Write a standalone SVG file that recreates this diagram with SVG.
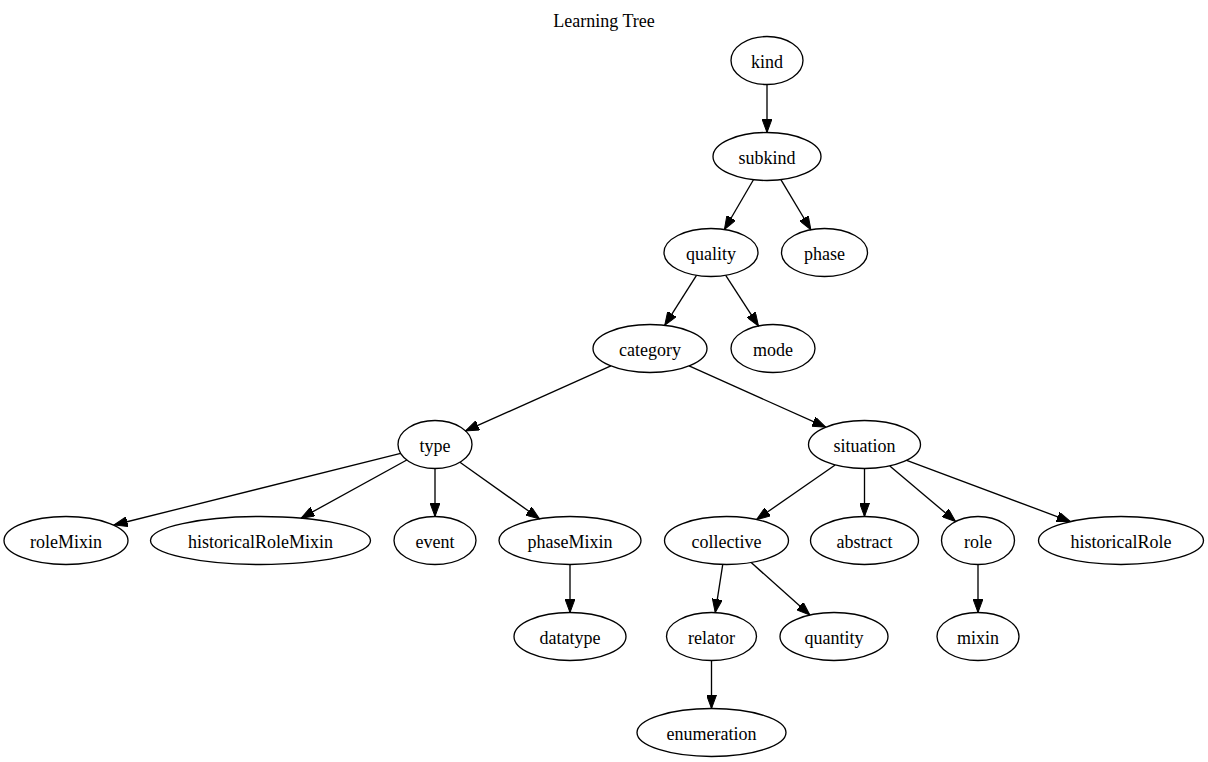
<svg xmlns="http://www.w3.org/2000/svg" width="1208" height="762" viewBox="0 0 1208 762">
  <style>
    .node ellipse { fill: none; stroke: #000; stroke-width: 1.33; }
    text { font-family: "Liberation Serif", "Times New Roman", serif; font-size: 18px; fill: #000; text-anchor: middle; }
    .edges line { stroke: #000; stroke-width: 1.33; marker-end: url(#arrow); }
  </style>
  <defs>
    <marker id="arrow" markerUnits="userSpaceOnUse" markerWidth="14" markerHeight="10" refX="13.5" refY="5" orient="auto">
      <path d="M0,0 L13.5,5 L0,10 z" fill="#000" stroke="#000" stroke-width="1"/>
    </marker>
  </defs>
  <rect width="1208" height="762" fill="#fff"/>

  <text id="title" x="604" y="27">Learning Tree</text>

  <g class="edges" id="edges">
    <line x1="767" y1="84.5" x2="767" y2="132.5"/>
    <line x1="753.45" y1="179.73" x2="724.42" y2="229.5"/>
    <line x1="780.89" y1="179.69" x2="810.87" y2="229.74"/>
    <line x1="696.49" y1="275.33" x2="664.73" y2="325.32"/>
    <line x1="725.72" y1="275.29" x2="758.46" y2="325.98"/>
    <line x1="610.89" y1="365.96" x2="465.48" y2="430.89"/>
    <line x1="689.06" y1="365.98" x2="825.77" y2="427.17"/>
    <line x1="400.66" y1="453.43" x2="114" y2="525"/>
    <line x1="406.78" y1="460.02" x2="301.05" y2="518.19"/>
    <line x1="435" y1="468.5" x2="435" y2="516.5"/>
    <line x1="459.93" y1="462.23" x2="539.52" y2="518.82"/>
    <line x1="570" y1="564.5" x2="570" y2="612.5"/>
    <line x1="835.13" y1="464.93" x2="756.65" y2="519.53"/>
    <line x1="864.5" y1="468.5" x2="864.5" y2="516.5"/>
    <line x1="889.81" y1="465.91" x2="955.6" y2="521.55"/>
    <line x1="906.68" y1="460.29" x2="1070.37" y2="521.55"/>
    <line x1="722.76" y1="564.46" x2="715.24" y2="612.58"/>
    <line x1="751.16" y1="562.52" x2="809.94" y2="615.01"/>
    <line x1="978" y1="564.5" x2="978" y2="612.5"/>
    <line x1="711.5" y1="660.5" x2="711.5" y2="708.5"/>
  </g>

  <g class="node" id="kind"><ellipse cx="767" cy="60.5" rx="36" ry="24"/><text x="767" y="67.5">kind</text></g>
  <g class="node" id="subkind"><ellipse cx="767" cy="156.5" rx="54" ry="24"/><text x="767" y="163.5">subkind</text></g>
  <g class="node" id="quality"><ellipse cx="711" cy="252.5" rx="47" ry="24"/><text x="711" y="259.5">quality</text></g>
  <g class="node" id="phase"><ellipse cx="824.5" cy="252.5" rx="43" ry="24"/><text x="824.5" y="259.5">phase</text></g>
  <g class="node" id="category"><ellipse cx="650" cy="348.5" rx="57" ry="24"/><text x="650" y="355.5">category</text></g>
  <g class="node" id="mode"><ellipse cx="773" cy="348.5" rx="42" ry="24"/><text x="773" y="355.5">mode</text></g>
  <g class="node" id="type"><ellipse cx="435" cy="444.5" rx="37" ry="24"/><text x="435" y="451.5">type</text></g>
  <g class="node" id="situation"><ellipse cx="864.5" cy="444.5" rx="56" ry="24"/><text x="864.5" y="451.5">situation</text></g>
  <g class="node" id="roleMixin"><ellipse cx="66" cy="540.5" rx="62" ry="24"/><text x="66" y="547.5">roleMixin</text></g>
  <g class="node" id="historicalRoleMixin"><ellipse cx="260.5" cy="540.5" rx="110" ry="24"/><text x="260.5" y="547.5">historicalRoleMixin</text></g>
  <g class="node" id="event"><ellipse cx="435" cy="540.5" rx="41" ry="24"/><text x="435" y="547.5">event</text></g>
  <g class="node" id="phaseMixin"><ellipse cx="570" cy="540.5" rx="71" ry="24"/><text x="570" y="547.5">phaseMixin</text></g>
  <g class="node" id="collective"><ellipse cx="726.5" cy="540.5" rx="62" ry="24"/><text x="726.5" y="547.5">collective</text></g>
  <g class="node" id="abstract"><ellipse cx="864.5" cy="540.5" rx="54" ry="24"/><text x="864.5" y="547.5">abstract</text></g>
  <g class="node" id="role"><ellipse cx="978" cy="540.5" rx="36.5" ry="24"/><text x="978" y="547.5">role</text></g>
  <g class="node" id="historicalRole"><ellipse cx="1121" cy="540.5" rx="82.5" ry="24"/><text x="1121" y="547.5">historicalRole</text></g>
  <g class="node" id="datatype"><ellipse cx="570" cy="636.5" rx="56" ry="24"/><text x="570" y="643.5">datatype</text></g>
  <g class="node" id="relator"><ellipse cx="711.5" cy="636.5" rx="45" ry="24"/><text x="711.5" y="643.5">relator</text></g>
  <g class="node" id="quantity"><ellipse cx="834" cy="636.5" rx="54" ry="24"/><text x="834" y="643.5">quantity</text></g>
  <g class="node" id="mixin"><ellipse cx="978" cy="636.5" rx="41" ry="24"/><text x="978" y="643.5">mixin</text></g>
  <g class="node" id="enumeration"><ellipse cx="711.5" cy="732.5" rx="74.5" ry="24"/><text x="711.5" y="739.5">enumeration</text></g>
</svg>
